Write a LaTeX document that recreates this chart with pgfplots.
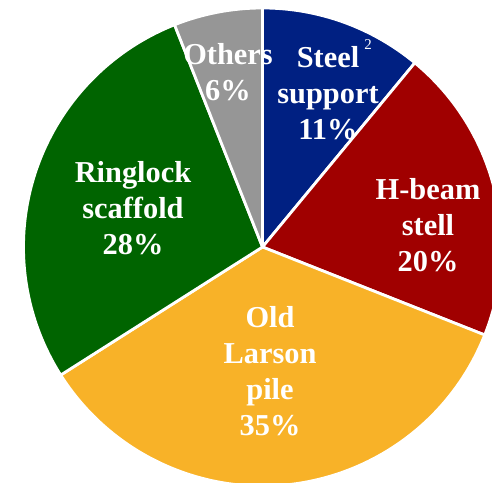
\documentclass[border=0pt]{standalone}
\usepackage{pgfplots}
\pgfplotsset{compat=1.18}
\usepackage{pgfplotstable}
\usepackage{fontspec}
\setmainfont{Liberation Serif}
\definecolor{cblue}{RGB}{0,32,130}
\definecolor{cred}{RGB}{160,0,0}
\definecolor{corange}{RGB}{248,178,40}
\definecolor{cgreen}{RGB}{0,100,0}
\definecolor{cgray}{RGB}{150,150,150}
\pgfplotstableread{
name pct
Steel 11
Hbeam 20
Larson 35
Ringlock 28
Others 6
}\piedata
\pgfplotstablegetelem{0}{pct}\of\piedata \let\vA\pgfplotsretval
\pgfplotstablegetelem{1}{pct}\of\piedata \let\vB\pgfplotsretval
\pgfplotstablegetelem{2}{pct}\of\piedata \let\vC\pgfplotsretval
\pgfplotstablegetelem{3}{pct}\of\piedata \let\vD\pgfplotsretval
\pgfplotstablegetelem{4}{pct}\of\piedata \let\vE\pgfplotsretval
\begin{document}
\begin{tikzpicture}
\begin{axis}[name=ax, hide axis, scale only axis, x=1bp, y=1bp,
  xmin=0, xmax=492, ymin=0, ymax=483, clip=true]
\def\cx{262.5}\def\cy{236}\def\R{239bp}
\tikzset{wedge/.style={draw=white, line width=2.8pt, line join=round}}
% Steel support
\filldraw[wedge, fill=cblue] (axis cs:\cx,\cy) -- ++(90:\R) arc[start angle=90, delta angle={-3.6*\vA}, radius=\R] -- cycle;
% H-beam
\filldraw[wedge, fill=cred] (axis cs:\cx,\cy) -- ++({90-3.6*\vA}:\R) arc[start angle={90-3.6*\vA}, delta angle={-3.6*\vB}, radius=\R] -- cycle;
% Old Larson
\filldraw[wedge, fill=corange] (axis cs:\cx,\cy) -- ++({90-3.6*(\vA+\vB)}:\R) arc[start angle={90-3.6*(\vA+\vB)}, delta angle={-3.6*\vC}, radius=\R] -- cycle;
% Ringlock
\filldraw[wedge, fill=cgreen] (axis cs:\cx,\cy) -- ++({90-3.6*(\vA+\vB+\vC)}:\R) arc[start angle={90-3.6*(\vA+\vB+\vC)}, delta angle={-3.6*\vD}, radius=\R] -- cycle;
% Others
\filldraw[wedge, fill=cgray] (axis cs:\cx,\cy) -- ++({90-3.6*(\vA+\vB+\vC+\vD)}:\R) arc[start angle={90-3.6*(\vA+\vB+\vC+\vD)}, delta angle={-3.6*\vE}, radius=\R] -- cycle;
\tikzset{lbl/.style={text=white, align=center, font=\fontsize{30.5}{36}\selectfont\bfseries, inner sep=0pt}}
\node[lbl] at (axis cs:228,411) {Others\\6\%};
\node[lbl] at (axis cs:328,390) {Steel\\support\\11\%};
\node[text=white, font=\fontsize{15}{16}\selectfont, inner sep=0pt] at (axis cs:368,438) {2};
\node[lbl] at (axis cs:428,258) {H-beam\\stell\\20\%};
\node[lbl] at (axis cs:133,275) {Ringlock\\scaffold\\28\%};
\node[lbl] at (axis cs:270,112) {Old\\Larson\\pile\\35\%};
\end{axis}
\pgfresetboundingbox
\path (ax.south west) rectangle (ax.north east);
\end{tikzpicture}
\end{document}
